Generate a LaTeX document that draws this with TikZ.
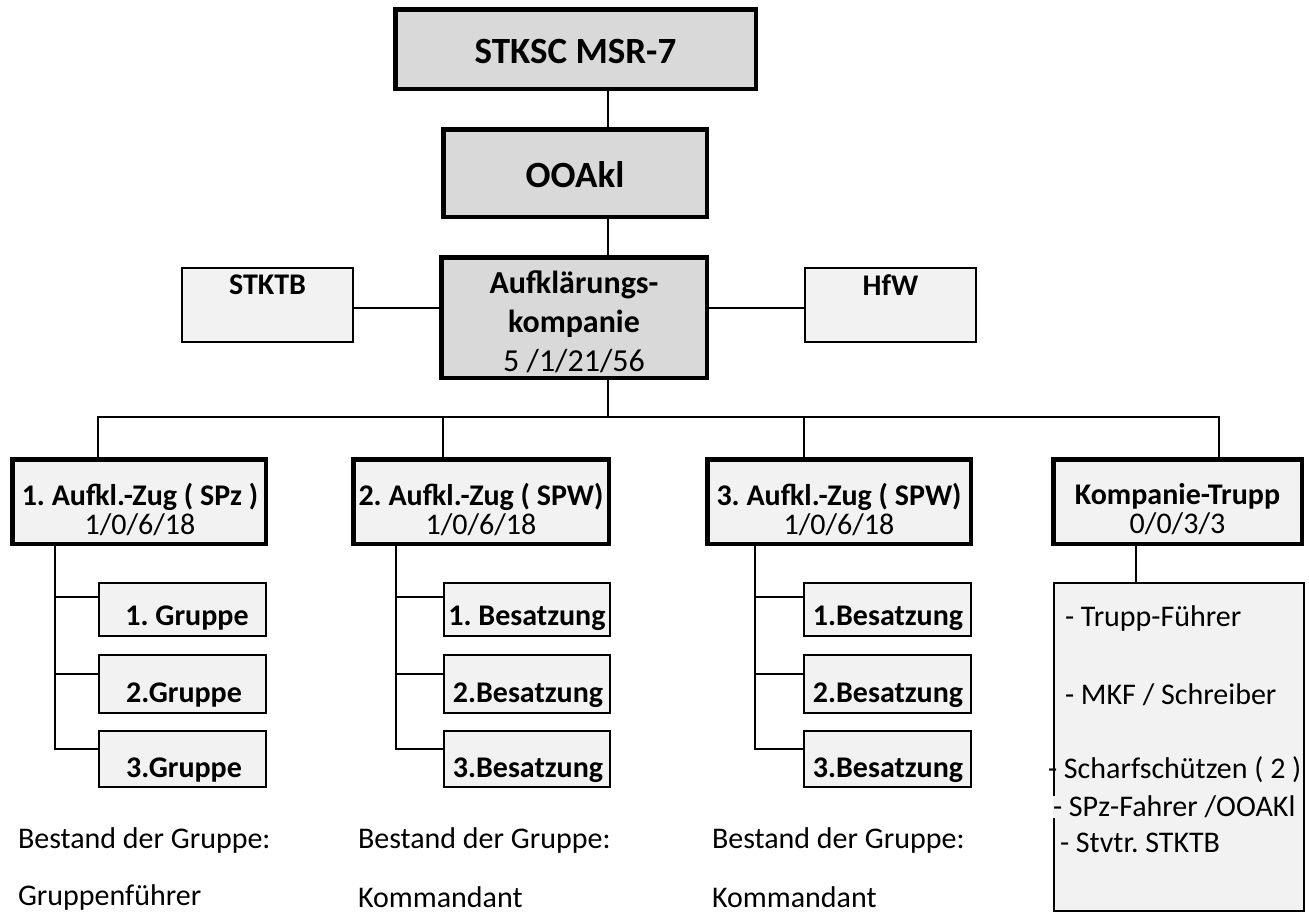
\documentclass[tikz,border=0pt]{standalone}
\usepackage{fontspec}
\setmainfont{Carlito}
\definecolor{gDark}{HTML}{D9D9D9}
\definecolor{gLite}{HTML}{F2F2F2}
\newcommand\fBig{\fontsize{37pt}{44pt}\selectfont\bfseries}
\newcommand\fMid{\fontsize{32pt}{39pt}\selectfont}
\newcommand\fZug{\fontsize{30pt}{29pt}\selectfont}
\newcommand\fSub{\fontsize{30pt}{34pt}\selectfont\bfseries}
\newcommand\fTxt{\fontsize{30pt}{34pt}\selectfont}
\frenchspacing
\begin{document}
\frenchspacing
\begin{tikzpicture}[x=1pt,y=-1pt,
  dark/.style={draw, line width=4.5pt, fill=gDark, inner sep=0pt, outer sep=0pt},
  lite/.style={draw, line width=4.5pt, fill=gLite, inner sep=0pt, outer sep=0pt},
  thinbox/.style={draw, line width=2.2pt, fill=gLite, inner sep=0pt, outer sep=0pt},
  con/.style={line width=2pt},
  lbl/.style={inner sep=0pt, outer sep=0pt},
  zugbox/.style={lite, minimum height=84.5pt},
  subbox/.style={thinbox, minimum width=166.5pt}
]
\useasboundingbox (0,0) rectangle (1309,914);
\clip (0,0) rectangle (1309,914);
% helper coordinates
\coordinate (tx) at (608,0);
\coordinate (bus) at (0,417);
\coordinate (d1) at (98,0);
\coordinate (d2) at (443,0);
\coordinate (d3) at (804,0);
\coordinate (d4) at (1219,0);
\coordinate (v1) at (55,0);
\coordinate (v2) at (396,0);
\coordinate (v3) at (755,0);
\coordinate (v4) at (1136,0);

% top boxes
\node[dark, minimum width=360.5pt, minimum height=79.5pt] (stksc) at (575.5,49) {};
\node[lbl, font=\fBig] (tstksc) at (575.5,51) {STKSC MSR-7};
\node[dark, minimum width=263.5pt, minimum height=87.5pt] (oo) at (575,173) {};
\node[lbl, font=\fBig] (too) at (575,175) {OOAkl};
\node[dark, minimum width=265.5pt, minimum height=120.5pt] (ak) at (574,317.5) {};
\node[lbl, font=\fMid, align=center] (tak) at (574,322) {\textbf{Aufklärungs-}\\\textbf{kompanie}\\5 /1/21/56};

\node[thinbox, minimum width=170.8pt, minimum height=73.8pt] (stktb) at (267.5,305) {};
\node[lbl, font=\fSub] (tstktb) at (267.5,285) {STKTB};
\node[thinbox, minimum width=170.8pt, minimum height=73.8pt] (hfw) at (890.5,305) {};
\node[lbl, font=\fSub] (thfw) at (890.5,285) {HfW};

% Zug boxes
\node[zugbox, minimum width=253.5pt] (z1) at (139,501.5) {};
\node[zugbox, minimum width=255.5pt] (z2) at (481,501.5) {};
\node[zugbox, minimum width=263.5pt] (z3) at (839,501.5) {};
\node[zugbox, minimum width=248.5pt] (kt) at (1177.5,501.5) {};
\node[lbl, font=\fZug, align=center] (tz1) at (140,509) {\textbf{1. Aufkl.-Zug ( SPz )}\\1/0/6/18};
\node[lbl, font=\fZug, align=center] (tz2) at (481,509) {\textbf{2. Aufkl.-Zug ( SPW)}\\1/0/6/18};
\node[lbl, font=\fZug, align=center] (tz3) at (839,509) {\textbf{3. Aufkl.-Zug ( SPW)}\\1/0/6/18};
\node[lbl, font=\fZug, align=center] (tkt) at (1177.5,509) {\textbf{Kompanie-Trupp}\\0/0/3/3};

% sub boxes
\node[subbox, minimum height=52.8pt] (g1) at (182.5,609.5) {};
\node[subbox, minimum height=57.8pt] (g2) at (182.5,684) {};
\node[subbox, minimum height=55.8pt] (g3) at (182.5,759) {};
\node[subbox, minimum height=52.8pt] (b21) at (527,609.5) {};
\node[subbox, minimum height=57.8pt] (b22) at (527,684) {};
\node[subbox, minimum height=55.8pt] (b23) at (527,759) {};
\node[subbox, minimum height=52.8pt] (b31) at (887.5,609.5) {};
\node[subbox, minimum height=57.8pt] (b32) at (887.5,684) {};
\node[subbox, minimum height=55.8pt] (b33) at (887.5,759) {};

\node[lbl, font=\fSub] (tg1) at (187,618) {1. Gruppe};
\node[lbl, font=\fSub] (tg2) at (184,695) {2.Gruppe};
\node[lbl, font=\fSub] (tg3) at (184,770) {3.Gruppe};
\node[lbl, font=\fSub] (tb21) at (527,618) {1. Besatzung};
\node[lbl, font=\fSub] (tb22) at (528,695) {2.Besatzung};
\node[lbl, font=\fSub] (tb23) at (528,770) {3.Besatzung};
\node[lbl, font=\fSub] (tb31) at (888,618) {1.Besatzung};
\node[lbl, font=\fSub] (tb32) at (888,695) {2.Besatzung};
\node[lbl, font=\fSub] (tb33) at (888,770) {3.Besatzung};

% Kompanie-Trupp list
\node[thinbox, minimum width=249.8pt, minimum height=327.8pt] (ktl) at (1179,747) {};
\node[lbl, font=\fTxt, anchor=west] (l1) at (1065,618) {- Trupp-Führer};
\node[lbl, font=\fTxt, anchor=west] (l2) at (1065,695) {- MKF / Schreiber};
\node[lbl, font=\fTxt, anchor=west] (l3) at (1048,770) {- Scharfschützen ( 2 )};
\node[lbl, font=\fTxt, anchor=west, fill=gLite] (l4) at (1053,807) {- SPz-Fahrer /OOAKl};
\node[lbl, font=\fTxt, anchor=west] (l5) at (1060,843) {- Stvtr. STKTB};

% bottom notes
\node[lbl, font=\fTxt, anchor=west] (n1a) at (18,840) {Bestand der Gruppe:};
\node[lbl, font=\fTxt, anchor=west] (n1b) at (18,897) {Gruppenführer};
\node[lbl, font=\fTxt, anchor=west] (n2a) at (358,840) {Bestand der Gruppe:};
\node[lbl, font=\fTxt, anchor=west] (n2b) at (358,897) {Kommandant};
\node[lbl, font=\fTxt, anchor=west] (n3a) at (712,840) {Bestand der Gruppe:};
\node[lbl, font=\fTxt, anchor=west] (n3b) at (712,897) {Kommandant};

% connectors
\draw[con] (stksc.south -| tx) -- (oo.north -| tx);
\draw[con] (oo.south -| tx) -- (ak.north -| tx);
\draw[con] (ak.south -| tx) -- (tx |- bus);
\draw[con] (stktb.east |- 0,308) -- (ak.west |- 0,308);
\draw[con] (ak.east |- 0,308) -- (hfw.west |- 0,308);
\draw[con] (z1.north -| d1) -- (d1 |- bus) -- (d4 |- bus) -- (kt.north -| d4);
\draw[con] (z2.north -| d2) -- (d2 |- bus);
\draw[con] (z3.north -| d3) -- (d3 |- bus);
\draw[con] (kt.south -| v4) -- (ktl.north -| v4);

\draw[con] (z1.south -| v1) -- (v1 |- 0,749) -- (g3.west |- 0,749);
\draw[con] (v1 |- 0,597) -- (g1.west |- 0,597);
\draw[con] (v1 |- 0,674) -- (g2.west |- 0,674);
\draw[con] (z2.south -| v2) -- (v2 |- 0,749) -- (b23.west |- 0,749);
\draw[con] (v2 |- 0,597) -- (b21.west |- 0,597);
\draw[con] (v2 |- 0,674) -- (b22.west |- 0,674);
\draw[con] (z3.south -| v3) -- (v3 |- 0,749) -- (b33.west |- 0,749);
\draw[con] (v3 |- 0,597) -- (b31.west |- 0,597);
\draw[con] (v3 |- 0,674) -- (b32.west |- 0,674);
\end{tikzpicture}
\end{document}
